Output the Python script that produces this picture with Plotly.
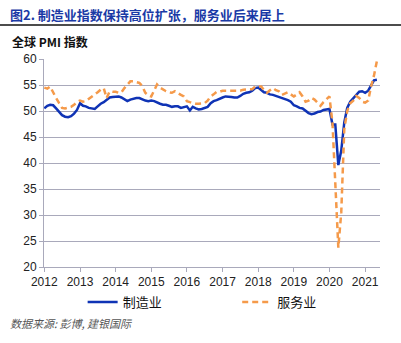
import plotly.graph_objects as go
import pandas as pd

months = pd.date_range("2012-01-01", "2021-05-01", freq="MS")

manufacturing = [
    # 2012
    50.5, 51.0, 51.2, 51.1, 50.5, 49.8, 49.2, 48.9, 48.8, 49.0, 49.5, 50.2,
    # 2013
    51.5, 51.0, 50.9, 50.6, 50.5, 50.4, 50.9, 51.4, 51.7, 52.2, 52.6, 52.7,
    # 2014
    52.8, 52.8, 52.6, 52.2, 51.9, 52.2, 52.4, 52.5, 52.5, 52.2, 52.0, 51.9,
    # 2015
    52.0, 51.9, 51.6, 51.4, 51.2, 51.2, 51.0, 50.8, 50.9, 50.9, 50.6, 50.7,
    # 2016
    50.9, 50.1, 50.8, 50.5, 50.3, 50.4, 50.6, 50.8, 51.5, 51.9, 52.1, 52.4,
    # 2017
    52.6, 52.8, 52.8, 52.7, 52.6, 52.6, 52.9, 53.3, 53.5, 53.6, 53.9, 54.4,
    # 2018
    54.5, 54.1, 53.6, 53.5, 53.2, 53.1, 52.9, 52.7, 52.5, 52.4, 52.1, 51.8,
    # 2019
    51.1, 50.9, 50.6, 50.5, 50.0, 49.6, 49.4, 49.5, 49.8, 49.9, 50.2, 50.3,
    # 2020
    50.4, 47.4, 47.4, 39.6, 42.4, 47.8, 50.6, 51.8, 52.4, 53.0, 53.7, 53.8,
    # 2021
    53.5, 53.9, 55.0, 55.9, 56.0,
]

services = [
    # 2012
    54.5, 54.3, 54.7, 53.5, 52.5, 51.5, 50.6, 50.5, 50.6, 50.8, 51.2, 51.7,
    # 2013
    52.0, 51.8, 51.9, 52.3, 52.8, 53.1, 53.6, 54.1, 54.4, 52.5, 53.8, 53.7,
    # 2014
    53.7, 53.5, 53.6, 54.4, 55.0, 55.7, 55.7, 55.6, 55.4, 54.8, 53.5, 53.0,
    # 2015
    52.8, 54.0, 55.1, 54.5, 54.1, 53.8, 53.6, 53.5, 53.8, 53.4, 53.1, 52.8,
    # 2016
    51.9, 51.7, 51.5, 51.4, 51.4, 51.4, 51.5, 52.0, 52.8, 53.2, 53.7, 53.7,
    # 2017
    53.9, 53.9, 53.9, 53.9, 53.8, 53.8, 53.9, 54.1, 54.1, 54.1, 54.2, 54.7,
    # 2018
    54.7, 54.7, 54.0, 53.5, 54.0, 54.4, 54.0, 53.8, 53.1, 53.4, 53.6, 53.2,
    # 2019
    52.8, 53.2, 53.6, 52.8, 51.8, 52.0, 52.5, 52.2, 51.5, 51.0, 51.7, 52.3,
    # 2020
    52.8, 47.7, 37.0, 23.7, 30.5, 46.5, 50.0, 51.5, 52.0, 52.9, 52.5, 51.8,
    # 2021
    51.6, 52.0, 54.6, 56.8, 59.6,
]

years = list(range(2012, 2022))
tick_labels = [str(y) for y in years]
y_ticks = [20, 25, 30, 35, 40, 45, 50, 55, 60]

BLUE = "#0f33b5"
ORANGE = "#f59a4a"
GRID = "#a9a9bb"
CJK = "Noto Sans CJK SC"
LAT = "Liberation Sans"

fig = go.Figure()
fig.add_trace(go.Scatter(x=months, y=manufacturing, mode="lines", name="制造业",
                         line=dict(color=BLUE, width=2.5), legend="legend"))
fig.add_trace(go.Scatter(x=months, y=services, mode="lines", name="服务业",
                         line=dict(color=ORANGE, width=2.5, dash="6px,4px"),
                         legend="legend2"))

leg_common = dict(orientation="h", yanchor="middle", xanchor="left",
                  font=dict(family=CJK, size=13, color="#111"),
                  bgcolor="rgba(0,0,0,0)", itemclick=False, itemdoubleclick=False,
                  borderwidth=0, tracegroupgap=0)

fig.update_layout(
    width=401, height=343,
    margin=dict(l=44, r=21, t=59, b=76, pad=0),
    paper_bgcolor="white", plot_bgcolor="white",
    showlegend=True,
    legend=dict(x=0.115, y=-0.168, **leg_common),
    legend2=dict(x=0.575, y=-0.168, **leg_common),
    xaxis=dict(
        range=["2011-12-29", "2021-06-02"],
        tickvals=[pd.Timestamp(f"{y}-01-01") for y in years],
        ticktext=tick_labels,
        showgrid=False, zeroline=False,
        showline=True, linecolor=GRID, linewidth=1,
        ticks="outside", ticklen=4, tickcolor=GRID,
        tickfont=dict(family=LAT, size=12, color="#222"),
    ),
    yaxis=dict(
        range=[20, 60], tickvals=y_ticks,
        showgrid=True, gridcolor=GRID, gridwidth=1,
        zeroline=False,
        showline=True, linecolor=GRID, linewidth=1,
        ticks="outside", ticklen=4, tickcolor=GRID,
        tickfont=dict(family=LAT, size=12, color="#222"),
    ),
)

fig.add_annotation(text="<b>图2. 制造业指数保持高位扩张，服务业后来居上</b>",
                   xref="paper", yref="paper", x=-0.107, y=1.216,
                   xanchor="left", yanchor="middle", showarrow=False,
                   font=dict(family=CJK, size=13, color="#1a3aa6"))
fig.add_shape(type="line", xref="paper", yref="paper",
              x0=-0.131, x1=1.0625, y0=1.163, y1=1.163,
              line=dict(color="#111", width=1.5))
fig.add_annotation(text="<b>全球 PMI 指数</b>",
                   xref="paper", yref="paper", x=-0.101, y=1.082,
                   xanchor="left", yanchor="middle", showarrow=False,
                   font=dict(family=CJK, size=12, color="#111"))
fig.add_annotation(text="<i>数据来源: 彭博, 建银国际</i>",
                   xref="paper", yref="paper", x=-0.107, y=-0.269,
                   xanchor="left", yanchor="middle", showarrow=False,
                   font=dict(family=CJK, size=11, color="#555"))

fig.write_html("out.html")
